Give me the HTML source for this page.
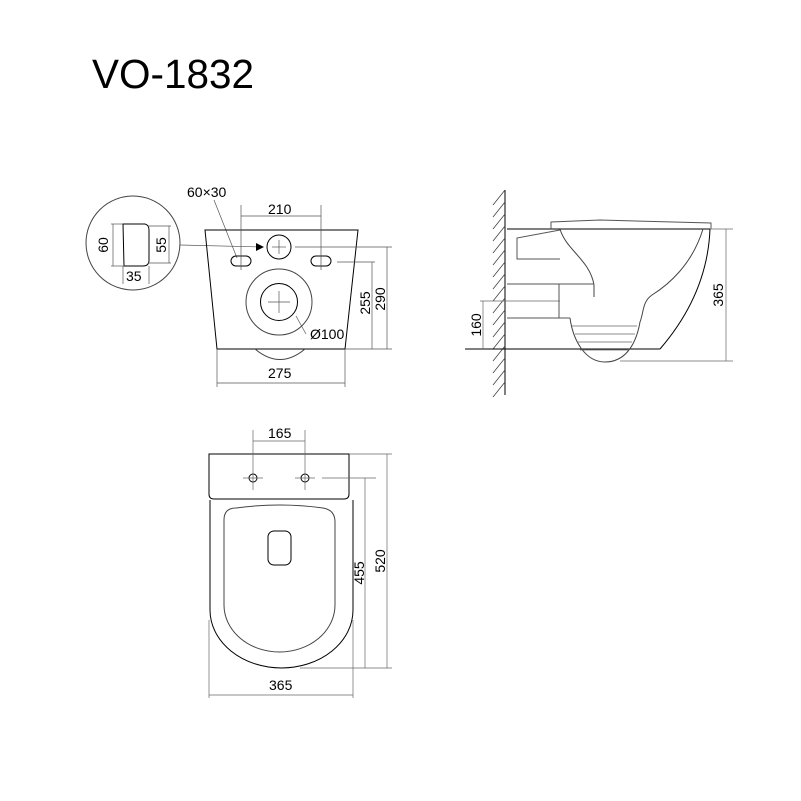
<!DOCTYPE html>
<html><head><meta charset="utf-8"><style>
html,body{margin:0;padding:0;background:#fff}
svg{display:block}
text{font-family:"Liberation Sans",Arial,sans-serif;fill:#000}
</style></head><body>
<svg width="801" height="801" viewBox="0 0 801 801" xmlns="http://www.w3.org/2000/svg">
<text x="92" y="88" font-size="41" textLength="162" lengthAdjust="spacingAndGlyphs">VO-1832</text>

<g fill="none" stroke="#000" stroke-width="1">
<circle cx="133" cy="243" r="47" stroke="#444"/>
<path d="M123,224 L145,224 Q149,225 149,230 L149,260 Q149,266 143,266 L124,266 Z"/>
<g stroke="#555" stroke-width="0.7">
<line x1="113" y1="224" x2="113" y2="266"/><line x1="111" y1="224" x2="123" y2="224"/><line x1="111" y1="266" x2="123" y2="266"/>
<line x1="169" y1="226" x2="169" y2="263"/><line x1="148" y1="226" x2="171" y2="226"/><line x1="148" y1="263" x2="171" y2="263"/>
<line x1="123" y1="266" x2="123" y2="284"/><line x1="149" y1="266" x2="149" y2="284"/>
<line x1="180" y1="245" x2="262" y2="247"/>
<line x1="214" y1="200" x2="237" y2="258"/>
</g>
<path d="M205,230 L358,230 L345,349 L217,349 Z"/>
<path d="M255,349 Q280,370 305,349" stroke="#444"/>
<circle cx="279" cy="247" r="12"/>
<rect x="231" y="256" width="20" height="10" rx="5"/>
<rect x="311" y="256" width="20" height="10" rx="5"/>
<circle cx="279" cy="302" r="33" stroke="#444"/>
<circle cx="279" cy="302" r="18.5"/>
<g stroke="#555" stroke-width="0.7">
<line x1="272" y1="247" x2="286" y2="247"/><line x1="279" y1="240" x2="279" y2="254"/>
<line x1="268" y1="302" x2="290" y2="302"/><line x1="279" y1="291" x2="279" y2="313"/>
<line x1="241" y1="205" x2="241" y2="270"/><line x1="321" y1="205" x2="321" y2="270"/>
<line x1="241" y1="216" x2="321" y2="216"/>
<line x1="295" y1="247" x2="392" y2="247"/>
<line x1="337" y1="262" x2="375" y2="262"/>
<line x1="345" y1="349" x2="392" y2="349"/>
<line x1="372" y1="262" x2="372" y2="349"/><line x1="387" y1="247" x2="387" y2="349"/>
<line x1="217" y1="349" x2="217" y2="387"/><line x1="345" y1="349" x2="345" y2="387"/>
<line x1="217" y1="383" x2="345" y2="383"/>
<line x1="296" y1="316" x2="306" y2="334"/>
</g>
</g>
<polygon points="256,243 264,247 256,251" fill="#000"/>
<g font-size="14">
<text x="187" y="197">60×30</text>
<text x="268" y="214">210</text>
<text x="268" y="378">275</text>
<text x="310" y="339">Ø100</text>
<text x="126" y="281">35</text>
<text transform="translate(108,245) rotate(-90)" text-anchor="middle">60</text>
<text transform="translate(166,245) rotate(-90)" text-anchor="middle">55</text>
<text transform="translate(370,303) rotate(-90)" text-anchor="middle">255</text>
<text transform="translate(385,299) rotate(-90)" text-anchor="middle">290</text>
</g>

<g fill="none" stroke="#000" stroke-width="1">
<line x1="505" y1="190" x2="505" y2="395"/>
<g stroke="#444" stroke-width="0.8">
<line x1="505" y1="190" x2="493" y2="205"/><line x1="505" y1="202" x2="493" y2="217"/><line x1="505" y1="214" x2="493" y2="229"/><line x1="505" y1="226" x2="493" y2="241"/><line x1="505" y1="238" x2="493" y2="253"/><line x1="505" y1="250" x2="493" y2="265"/><line x1="505" y1="262" x2="493" y2="277"/><line x1="505" y1="274" x2="493" y2="289"/><line x1="505" y1="286" x2="493" y2="301"/><line x1="505" y1="298" x2="493" y2="313"/><line x1="505" y1="310" x2="493" y2="325"/><line x1="505" y1="322" x2="493" y2="337"/><line x1="505" y1="334" x2="493" y2="349"/><line x1="505" y1="346" x2="493" y2="361"/><line x1="505" y1="358" x2="493" y2="373"/><line x1="505" y1="370" x2="493" y2="385"/><line x1="505" y1="382" x2="493" y2="397"/>
</g>
<line x1="465" y1="349" x2="660" y2="349"/>
<line x1="507" y1="229" x2="710" y2="229"/>
<path d="M551,229 L551,222 L600,220 L711,223 L711,229" stroke="#555"/>
<path d="M710,229 C708,280 685,320 660,349"/>
<path d="M703,229 C692,265 668,285 652,295 C642,302 644,312 640,322 C636,345 625,362 605,362 C585,362 573,340 570,318" stroke="#444"/>
<path d="M560,229 C566,250 590,260 594,285 L594,297" stroke="#444"/>
<path d="M560,230 L517,238 L517,259 L560,259" stroke="#555"/>
<path d="M507,284 L594,284 M559,284 L559,318 M507,318 L570,318" stroke="#555"/>
<g stroke="#666" stroke-width="0.7">
<line x1="572" y1="326" x2="637" y2="326"/><line x1="575" y1="334" x2="635" y2="334"/><line x1="577" y1="342" x2="632" y2="342"/><line x1="580" y1="350" x2="628" y2="350"/>
<line x1="710" y1="229" x2="733" y2="229"/><line x1="620" y1="361" x2="733" y2="361"/>
<line x1="726" y1="229" x2="726" y2="361"/>
<line x1="480" y1="301" x2="560" y2="301"/><line x1="483" y1="301" x2="483" y2="349"/>
</g>
</g>
<g font-size="14">
<text transform="translate(723,295) rotate(-90)" text-anchor="middle">365</text>
<text transform="translate(481,325) rotate(-90)" text-anchor="middle">160</text>
</g>

<g fill="none" stroke="#000" stroke-width="1">
<path d="M209,454 L349,454 L349,494 Q349,499 344,499 L214,499 Q209,499 209,494 Z"/>
<path d="M210,500 L210,610 A71.5,58 0 0 0 353,610 L353,500"/>
<path d="M224,520 Q224,508 236,508 Q280,502 323,508 Q335,510 335,522 L335,605 A55.5,47 0 0 1 224,605 Z" stroke="#444"/>
<rect x="268" y="531" width="23" height="34" rx="6"/>
<circle cx="253" cy="478" r="4"/><circle cx="305" cy="478" r="4"/>
<g stroke="#666" stroke-width="0.7">
<line x1="243" y1="478" x2="263" y2="478"/><line x1="295" y1="478" x2="315" y2="478"/>
<line x1="253" y1="430" x2="253" y2="490"/><line x1="305" y1="430" x2="305" y2="490"/>
<line x1="253" y1="441" x2="305" y2="441"/>
<line x1="349" y1="454" x2="392" y2="454"/>
<line x1="322" y1="478" x2="376" y2="478"/>
<line x1="300" y1="668" x2="392" y2="668"/>
<line x1="387" y1="454" x2="387" y2="668"/><line x1="365" y1="478" x2="365" y2="668"/>
<line x1="209" y1="620" x2="209" y2="698"/><line x1="353" y1="620" x2="353" y2="698"/>
<line x1="209" y1="695" x2="353" y2="695"/>
</g>
</g>
<g font-size="14">
<text x="268" y="438">165</text>
<text x="269" y="690">365</text>
<text transform="translate(364,573) rotate(-90)" text-anchor="middle">455</text>
<text transform="translate(385,561) rotate(-90)" text-anchor="middle">520</text>
</g>
</svg>
</body></html>
